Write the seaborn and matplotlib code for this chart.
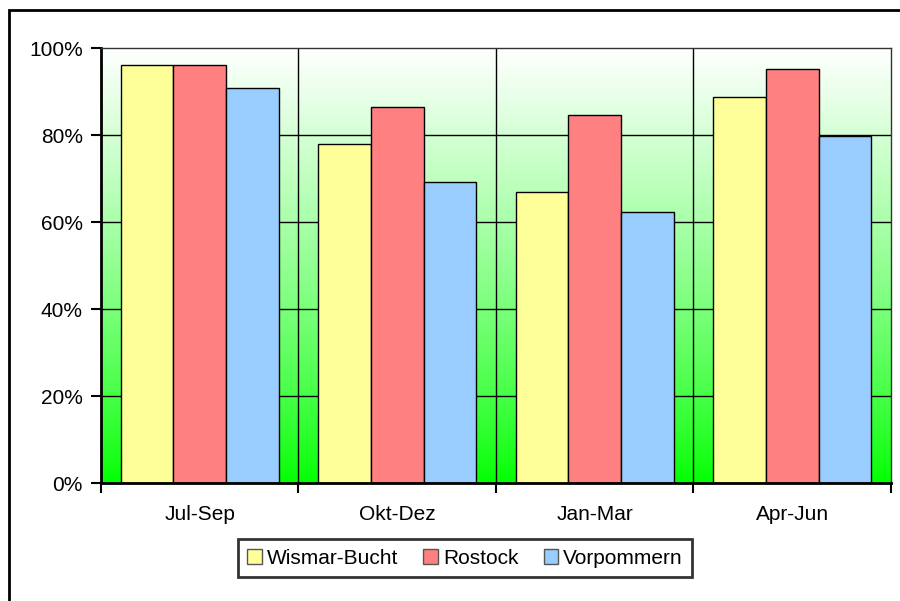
import numpy as np
import pandas as pd
import seaborn as sns
import matplotlib.pyplot as plt
from matplotlib.patches import Rectangle
from matplotlib.ticker import PercentFormatter, FixedLocator

# Daten (Anteil)
quartale = ['Jul-Sep', 'Okt-Dez', 'Jan-Mar', 'Apr-Jun']
wismar = [0.961, 0.779, 0.669, 0.888]
rostock = [0.961, 0.864, 0.846, 0.951]
vorpommern = [0.908, 0.692, 0.623, 0.797]
regionen = ['Wismar-Bucht', 'Rostock', 'Vorpommern']
farben = ['#FFFF99', '#FF8080', '#99CCFF']

df = pd.DataFrame({
    'Quartal': quartale * 3,
    'Region': [r for r in regionen for _ in quartale],
    'Wert': wismar + rostock + vorpommern,
})

sns.set_style('white')
plt.rcParams['font.family'] = ['Liberation Sans', 'DejaVu Sans']
plt.rcParams['font.size'] = 15
plt.rcParams['text.color'] = 'black'
plt.rcParams['xtick.color'] = 'black'
plt.rcParams['ytick.color'] = 'black'

fig = plt.figure(figsize=(9, 6.01), dpi=100)
ax = fig.add_axes([0.1122, 0.1963, 0.99 - 0.1122, 0.920 - 0.1963])

# Hintergrund mit Farbverlauf (weiss oben, gruen unten)
f = np.linspace(0, 1, 256).reshape(-1, 1) ** 0.8
grad = np.dstack([f, np.ones_like(f), f])
ax.imshow(grad, extent=[-0.5, 3.5, 0, 1], origin='lower', aspect='auto', zorder=0)

sns.barplot(data=df, x='Quartal', y='Wert', hue='Region', order=quartale,
            hue_order=regionen, palette=farben, width=0.8, gap=0,
            edgecolor='black', linewidth=1, saturation=1, ax=ax, zorder=2)

ax.set_xlim(-0.5, 3.5)
ax.set_ylim(0, 1)
ax.set_xlabel('')
ax.set_ylabel('')

ax.set_yticks(np.arange(0, 1.01, 0.2))
ax.yaxis.set_major_formatter(PercentFormatter(1.0, decimals=0))
ax.tick_params(axis='y', length=7, width=1.5, direction='out', pad=6, left=True, labelsize=15)
ax.tick_params(axis='x', which='major', length=0, pad=16, labelsize=15)
ax.xaxis.set_minor_locator(FixedLocator([-0.5, 0.5, 1.5, 2.5, 3.5]))
ax.tick_params(axis='x', which='minor', length=7, width=1.5, direction='out', bottom=True)

# Gitterlinien
for y in [0.2, 0.4, 0.6, 0.8]:
    ax.axhline(y, color='black', lw=1, zorder=1)
for x in [0.5, 1.5, 2.5]:
    ax.axvline(x, color='black', lw=1, zorder=1)

for s in ['left', 'bottom']:
    ax.spines[s].set_linewidth(2)
    ax.spines[s].set_color('black')
for s in ['top', 'right']:
    ax.spines[s].set_linewidth(1)
    ax.spines[s].set_color('#333333')

handles, labels = ax.get_legend_handles_labels()
leg = ax.legend(handles, labels, loc='center', bbox_to_anchor=(465 / 900, 1 - 558 / 601),
                bbox_transform=fig.transFigure, ncol=3, frameon=True, fancybox=False,
                handlelength=0.7, handleheight=0.7, handletextpad=0.25, columnspacing=1.2,
                borderpad=0.45, fontsize=15)
leg.get_frame().set_edgecolor('black')
leg.get_frame().set_linewidth(2)
for h in leg.legend_handles:
    h.set_edgecolor('#555555')

# Rahmen um das Diagramm
fig.patches.append(Rectangle((8.5 / 900, -0.1), 1.2, 0.1 + 1 - 10 / 601, transform=fig.transFigure,
                             fill=False, edgecolor='black', lw=2, clip_on=False))

fig.savefig('out.png', dpi=100)
